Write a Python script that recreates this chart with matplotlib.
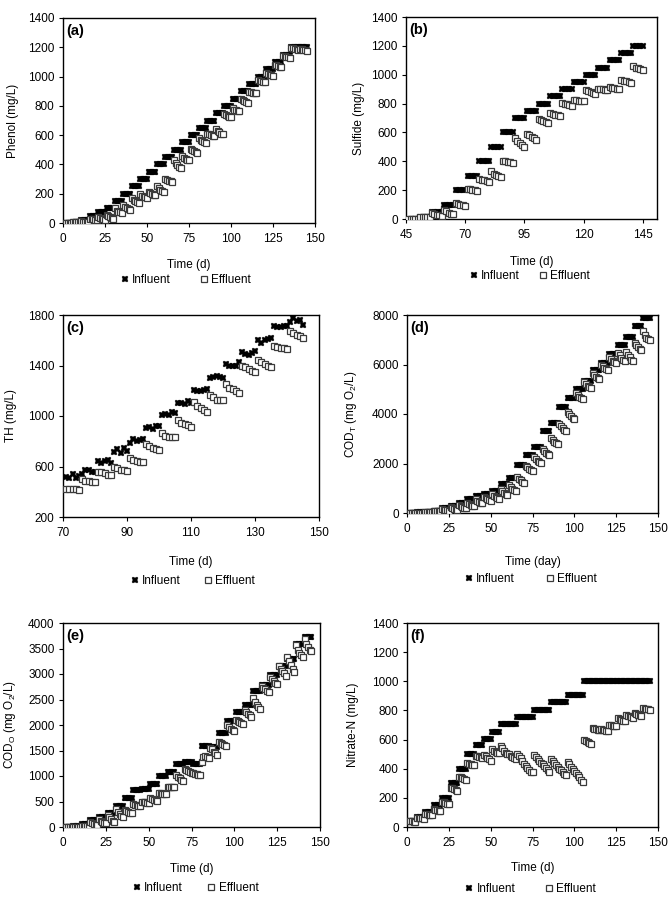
import matplotlib
matplotlib.use("Agg")
import matplotlib.pyplot as plt
from matplotlib.ticker import MultipleLocator

plt.rcParams['font.family'] = ['Liberation Sans', 'DejaVu Sans']
plt.rcParams['mathtext.fontset'] = 'custom'
plt.rcParams['mathtext.rm'] = 'Liberation Sans'
plt.rcParams['mathtext.it'] = 'Liberation Sans:italic'

# ---------------- data ----------------
days_full = list(range(1, 146))
days_b = list(range(46, 146))
days_c = list(range(71, 146))

phenol_in = [
    0, 0, 0, 0, 0, 5, 5, 5, 5, 5, 20, 20, 20, 20, 20,
    50, 50, 50, 50, 50, 75, 75, 75, 75, 75, 100, 100, 100, 100, 100,
    150, 150, 150, 150, 150, 200, 200, 200, 200, 200, 250, 250, 250, 250, 250,
    300, 300, 300, 300, 300, 350, 350, 350, 350, 350, 400, 400, 400, 400, 400,
    450, 450, 450, 450, 450, 500, 500, 500, 500, 500, 550, 550, 550, 550, 550,
    600, 600, 600, 600, 600, 650, 650, 650, 650, 650, 700, 700, 700, 700, 700,
    750, 750, 750, 750, 750, 800, 800, 800, 800, 800, 850, 850, 850, 850, 850,
    900, 900, 900, 900, 900, 950, 950, 950, 950, 950, 1000, 1000, 1000, 1000, 1000,
    1050, 1050, 1050, 1050, 1050, 1100, 1100, 1100, 1100, 1100, 1150, 1150, 1150, 1150, 1150,
    1200, 1200, 1200, 1200, 1200, 1200, 1200, 1200, 1200, 1200]
phenol_out = [
    2, 2, 2, 2, 2, 5, 5, 5, 4, 4, 12, 10, 10, 8, 8,
    30, 27, 25, 22, 20, 40, 35, 30, 26, 23, 55, 48, 42, 36, 30,
    100, 85, 78, 72, 68, 120, 110, 100, 95, 92, 170, 160, 150, 145, 140,
    195, 185, 180, 175, 172, 210, 205, 198, 192, 190, 255, 240, 228, 218, 210,
    300, 295, 290, 286, 283, 430, 410, 395, 385, 377, 455, 445, 438, 432, 428,
    505, 498, 490, 482, 478, 580, 570, 560, 552, 545, 610, 605, 600, 595, 592,
    640, 630, 620, 610, 605, 745, 738, 730, 725, 722, 785, 775, 770, 765, 762,
    848, 840, 832, 825, 820, 898, 893, 890, 887, 885, 975, 970, 967, 964, 962,
    1025, 1018, 1012, 1008, 1005, 1082, 1076, 1072, 1068, 1065, 1142, 1138, 1135, 1132, 1130,
    1195, 1192, 1188, 1185, 1183, 1190, 1187, 1184, 1180, 1176]

sulfide_in = [
    0, 0, 0, 0, 0, 15, 15, 15, 15, 15, 50, 50, 50, 50, 50,
    100, 100, 100, 100, 100, 200, 200, 200, 200, 200, 300, 300, 300, 300, 300,
    400, 400, 400, 400, 400, 500, 500, 500, 500, 500, 600, 600, 600, 600, 600,
    700, 700, 700, 700, 700, 750, 750, 750, 750, 750, 800, 800, 800, 800, 800,
    850, 850, 850, 850, 850, 900, 900, 900, 900, 900, 950, 950, 950, 950, 950,
    1000, 1000, 1000, 1000, 1000, 1050, 1050, 1050, 1050, 1050, 1100, 1100, 1100, 1100, 1100,
    1150, 1150, 1150, 1150, 1150, 1200, 1200, 1200, 1200, 1200]
sulfide_out = [
    3, 3, 3, 2, 2, 15, 15, 14, 13, 12, 45, 38, 30, 25, 22,
    65, 55, 45, 38, 32, 110, 105, 100, 97, 93, 210, 207, 203, 198, 194,
    280, 273, 268, 263, 259, 330, 315, 305, 295, 288, 405, 400, 397, 393, 390,
    560, 540, 525, 512, 502, 592, 580, 570, 558, 548, 690, 683, 676, 670, 664,
    735, 728, 722, 718, 715, 805, 800, 795, 790, 785, 825, 822, 820, 818, 815,
    895, 885, 877, 870, 866, 903, 900, 900, 896, 891, 915, 910, 907, 903, 900,
    962, 957, 953, 950, 946, 1060, 1050, 1045, 1040, 1035]

th_in = [
    520, 505, 540, 505, 525, 540, 575, 575, 555, 555, 640, 625, 640, 655, 630,
    715, 735, 705, 745, 725, 790, 815, 805, 810, 815, 905, 915, 895, 920, 920,
    1005, 1015, 1010, 1035, 1025, 1105, 1100, 1095, 1115, 1105, 1205, 1195, 1200, 1205, 1210,
    1300, 1310, 1315, 1310, 1300, 1410, 1395, 1395, 1400, 1430, 1510, 1490, 1480, 1500, 1515,
    1605, 1580, 1600, 1610, 1620, 1710, 1705, 1705, 1710, 1710, 1745, 1775, 1750, 1760, 1720]
th_out = [
    425, 423, 422, 420, 412, 500, 485, 483, 480, 475, 560, 555, 548, 530, 532,
    600, 585, 575, 570, 567, 665, 650, 640, 635, 632, 780, 760, 750, 740, 728,
    865, 845, 835, 830, 830, 965, 945, 935, 925, 915, 1110, 1080, 1065, 1050, 1035,
    1170, 1150, 1130, 1125, 1125, 1250, 1225, 1210, 1200, 1185, 1400, 1390, 1370, 1355, 1345,
    1445, 1425, 1410, 1400, 1390, 1555, 1545, 1540, 1535, 1530, 1670, 1655, 1645, 1630, 1620]

codt_in = [
    20, 20, 20, 20, 20, 30, 30, 30, 30, 30, 60, 60, 60, 60, 60,
    100, 100, 100, 100, 100, 190, 190, 190, 190, 190, 280, 280, 280, 280, 280,
    400, 400, 400, 400, 400, 550, 550, 550, 550, 550, 700, 700, 700, 700, 700,
    780, 780, 780, 780, 780, 900, 900, 900, 900, 900, 1180, 1180, 1180, 1180, 1180,
    1430, 1430, 1430, 1430, 1430, 1930, 1930, 1930, 1930, 1930, 2330, 2330, 2330, 2330, 2330,
    2650, 2650, 2650, 2650, 2650, 3330, 3330, 3330, 3330, 3330, 3640, 3640, 3640, 3640, 3640,
    4280, 4280, 4280, 4280, 4280, 4660, 4660, 4660, 4660, 4660, 5010, 5010, 5010, 5010, 5010,
    5350, 5350, 5350, 5350, 5350, 5770, 5770, 5770, 5770, 5770, 6060, 6060, 6060, 6060, 6060,
    6440, 6440, 6440, 6440, 6440, 6780, 6780, 6780, 6780, 6780, 7110, 7110, 7110, 7110, 7110,
    7560, 7560, 7560, 7560, 7560, 7890, 7890, 7890, 7890, 7890]
codt_out = [
    10, 10, 10, 10, 10, 20, 20, 15, 15, 15, 30, 30, 25, 25, 25,
    90, 80, 75, 70, 65, 160, 140, 120, 105, 95, 240, 200, 170, 150, 140,
    330, 280, 240, 210, 190, 420, 370, 330, 300, 280, 560, 500, 450, 420, 400,
    640, 590, 550, 510, 480, 760, 700, 650, 600, 570, 950, 870, 800, 750, 720,
    1150, 1050, 980, 930, 900, 1450, 1390, 1330, 1270, 1230, 1900, 1840, 1780, 1730, 1680,
    2250, 2180, 2120, 2070, 2030, 2580, 2500, 2440, 2400, 2360, 3050, 2950, 2880, 2820, 2770,
    3600, 3500, 3420, 3360, 3300, 4100, 3980, 3900, 3830, 3780, 4850, 4770, 4700, 4640, 4600,
    5280, 5200, 5130, 5080, 5040, 5650, 5570, 5510, 5460, 5420, 6000, 5930, 5870, 5820, 5790,
    6300, 6220, 6150, 6100, 6060, 6450, 6370, 6280, 6200, 6140, 6520, 6400, 6290, 6200, 6150,
    6880, 6780, 6700, 6640, 6580, 7350, 7200, 7080, 7020, 6980]

codo_in = [
    5, 5, 5, 5, 5, 10, 10, 10, 10, 10, 50, 50, 50, 50, 50,
    140, 140, 140, 140, 140, 200, 200, 200, 200, 200, 280, 280, 280, 280, 280,
    420, 420, 420, 420, 420, 570, 570, 570, 570, 570, 720, 720, 720, 720, 720,
    750, 750, 750, 750, 750, 850, 850, 850, 850, 850, 1000, 1000, 1000, 1000, 1000,
    1080, 1080, 1080, 1080, 1080, 1230, 1230, 1230, 1230, 1230, 1280, 1280, 1280, 1280, 1280,
    1240, 1240, 1240, 1240, 1240, 1590, 1590, 1590, 1590, 1590, 1560, 1560, 1560, 1560, 1560,
    1850, 1850, 1850, 1850, 1850, 2070, 2070, 2070, 2070, 2070, 2250, 2250, 2250, 2250, 2250,
    2400, 2400, 2400, 2400, 2400, 2660, 2660, 2660, 2660, 2660, 2780, 2780, 2780, 2780, 2780,
    2990, 2990, 2990, 2990, 2990, 3150, 3150, 3150, 3150, 3150, 3300, 3300, 3300, 3300, 3300,
    3580, 3580, 3580, 3580, 3580, 3730, 3730, 3730, 3730, 3730]
codo_out = [
    5, 5, 5, 5, 5, 8, 8, 7, 7, 7, 20, 15, 12, 10, 10,
    100, 70, 55, 45, 40, 150, 120, 95, 80, 70, 240, 200, 160, 120, 95,
    350, 300, 260, 220, 200, 330, 310, 290, 275, 265, 460, 440, 425, 415, 410,
    500, 490, 485, 480, 475, 560, 545, 530, 520, 510, 665, 660, 655, 650, 645,
    780, 785, 790, 790, 785, 1020, 990, 960, 930, 910, 1140, 1110, 1090, 1075, 1065,
    1050, 1040, 1030, 1020, 1010, 1280, 1370, 1390, 1370, 1360, 1550, 1520, 1480, 1450, 1420,
    1660, 1640, 1620, 1600, 1580, 2000, 1960, 1930, 1910, 1890, 2100, 2080, 2060, 2030, 2010,
    2290, 2250, 2220, 2190, 2160, 2520, 2460, 2400, 2350, 2320, 2760, 2730, 2700, 2670, 2640,
    2950, 2910, 2870, 2830, 2800, 3150, 3100, 3060, 3010, 2970, 3340, 3250, 3170, 3100, 3040,
    3560, 3480, 3420, 3370, 3330, 3680, 3580, 3520, 3480, 3450]

nitrate_in = [
    40, 40, 40, 40, 40, 70, 70, 70, 70, 70, 100, 100, 100, 100, 100,
    150, 150, 150, 150, 150, 200, 200, 200, 200, 200, 300, 300, 300, 300, 300,
    400, 400, 400, 400, 400, 500, 500, 500, 500, 500, 560, 560, 560, 560, 560,
    605, 605, 605, 605, 605, 655, 655, 655, 655, 655, 705, 705, 705, 705, 705,
    705, 705, 705, 705, 705, 755, 755, 755, 755, 755, 755, 755, 755, 755, 755,
    805, 805, 805, 805, 805, 805, 805, 805, 805, 805, 855, 855, 855, 855, 855,
    855, 855, 855, 855, 855, 905, 905, 905, 905, 905, 905, 905, 905, 905, 905,
    1005, 1005, 1005, 1005, 1005, 1005, 1005, 1005, 1005, 1005, 1005, 1005, 1005, 1005, 1005,
    1005, 1005, 1005, 1005, 1005, 1005, 1005, 1005, 1005, 1005, 1005, 1005, 1005, 1005, 1005,
    1005, 1005, 1005, 1005, 1005, 1005, 1005, 1005, 1005, 1005]
nitrate_out = [
    40, 40, 38, 37, 36, 65, 63, 62, 60, 58, 90, 88, 85, 83, 80,
    125, 120, 115, 110, 110, 175, 170, 165, 160, 158, 270, 265, 260, 255, 250,
    345, 340, 335, 330, 325, 440, 435, 430, 428, 425, 490, 485, 480, 478, 475,
    495, 485, 475, 465, 455, 535, 525, 518, 510, 505, 555, 540, 525, 510, 500,
    500, 490, 480, 472, 465, 500, 490, 475, 455, 435, 420, 405, 390, 380, 375,
    495, 480, 465, 450, 440, 430, 420, 405, 390, 380, 465, 450, 440, 425, 410,
    400, 390, 378, 365, 355, 445, 430, 415, 400, 385, 370, 355, 340, 325, 310,
    600, 590, 585, 575, 570, 680, 675, 670, 668, 665, 670, 668, 665, 662, 660,
    700, 698, 695, 692, 690, 745, 740, 735, 730, 725, 770, 765, 760, 755, 750,
    780, 775, 770, 768, 765, 815, 813, 810, 808, 805]

panel_labels = ['(a)', '(b)', '(c)', '(d)', '(e)', '(f)']
y_labels = ['Phenol (mg/L)', 'Sulfide (mg/L)', 'TH (mg/L)',
            r'COD$_{\mathrm{T}}$ (mg O$_2$/L)', r'COD$_{\mathrm{O}}$ (mg O$_2$/L)',
            'Nitrate-N (mg/L)']
x_labels = ['Time (d)', 'Time (d)', 'Time (d)', 'Time (day)', 'Time (d)', 'Time (d)']
legend_labels = ['Influent', 'Effluent']

# ---------------- layout ----------------
W, H = 672, 917
fig = plt.figure(figsize=(W / 100, H / 100), dpi=100)


def rect(l, r, t, b):
    return [l / W, 1 - b / H, (r - l) / W, (b - t) / H]


panels = [
    dict(rect=rect(63, 315, 18, 223), x=days_full, yin=phenol_in, yout=phenol_out,
         xlim=(0, 150), xt=25, ylim=(0, 1400), yt=200, xlab_y=-0.176, ylab_x=-0.175,
         leg=(186, 280), cs=2.5),
    dict(rect=rect(406, 657, 17, 219), x=days_b, yin=sulfide_in, yout=sulfide_out,
         xlim=(45, 151), xt=25, ylim=(0, 1400), yt=200, xlab_y=-0.183, ylab_x=-0.165,
         leg=(530, 276), cs=1.7),
    dict(rect=rect(63, 319, 315, 517), x=days_c, yin=th_in, yout=th_out,
         xlim=(70, 150), xt=20, ylim=(200, 1800), yt=400, xlab_y=-0.193, ylab_x=-0.178,
         leg=(193, 581), cs=2.0),
    dict(rect=rect(407, 658, 315, 513), x=days_full, yin=codt_in, yout=codt_out,
         xlim=(0, 150), xt=25, ylim=(0, 8000), yt=2000, xlab_y=-0.217, ylab_x=-0.19,
         leg=(531, 579), cs=2.7),
    dict(rect=rect(63, 320, 623, 827), x=days_full, yin=codo_in, yout=codo_out,
         xlim=(0, 150), xt=25, ylim=(0, 4000), yt=500, xlab_y=-0.176, ylab_x=-0.175,
         leg=(196, 888), cs=2.1),
    dict(rect=rect(407, 658, 623, 827), x=days_full, yin=nitrate_in, yout=nitrate_out,
         xlim=(0, 150), xt=25, ylim=(0, 1400), yt=200, xlab_y=-0.172, ylab_x=-0.19,
         leg=(531, 889), cs=2.6),
]

FS = 8.5
for i, p in enumerate(panels):
    ax = fig.add_axes(p['rect'])
    h_in, = ax.plot(p['x'], p['yin'], linestyle='none', marker='X', markersize=4.4,
                    color='black', markeredgewidth=0.3, zorder=3)
    h_out, = ax.plot(p['x'], p['yout'], linestyle='none', marker='s', markersize=4.2,
                     markerfacecolor='white', markeredgecolor='#3a3a3a',
                     markeredgewidth=0.9, zorder=4)
    ax.set_xlim(*p['xlim'])
    ax.set_ylim(*p['ylim'])
    ax.xaxis.set_major_locator(MultipleLocator(p['xt'], offset=p['xlim'][0] % p['xt']))
    ax.yaxis.set_major_locator(MultipleLocator(p['yt'], offset=p['ylim'][0] % p['yt']))
    ax.tick_params(direction='out', length=3, width=0.8, labelsize=FS, pad=3,
                   colors='black')
    ax.tick_params(axis='x', pad=4)
    for s in ax.spines.values():
        s.set_linewidth(1.0)
        s.set_color('black')
    ax.set_xlabel(x_labels[i], fontsize=FS)
    ax.set_ylabel(y_labels[i], fontsize=FS)
    ax.xaxis.set_label_coords(0.5, p['xlab_y'])
    ax.yaxis.set_label_coords(p['ylab_x'], 0.5)
    ax.text(0.012, 0.935, panel_labels[i], transform=ax.transAxes, fontsize=10.5,
            fontweight='bold', va='center', ha='left')
    lx, ly = p['leg']
    ax.legend([h_in, h_out], legend_labels, loc='center',
              bbox_to_anchor=(lx / W, 1 - ly / H), bbox_transform=fig.transFigure,
              ncol=2, frameon=False, fontsize=FS, handlelength=0.6,
              handletextpad=0.3, columnspacing=p['cs'], borderpad=0, markerscale=1.0)

fig.savefig('out.png', dpi=100)
